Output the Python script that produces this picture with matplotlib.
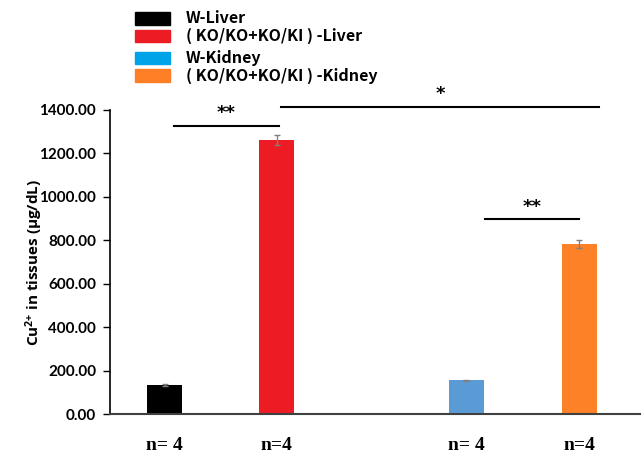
import matplotlib.pyplot as plt
from matplotlib.patches import Rectangle

plt.rcParams['mathtext.fontset'] = 'custom'
plt.rcParams['mathtext.rm'] = 'Open Sans:bold'
plt.rcParams['mathtext.bf'] = 'Open Sans:bold'
plt.rcParams['mathtext.it'] = 'Open Sans:bold'

# data
groups = ['W-Liver', '( KO/KO+KO/KI ) -Liver', 'W-Kidney', '( KO/KO+KO/KI ) -Kidney']
values = [135.0, 1262.0, 155.0, 782.0]
errors = [4.0, 22.0, 4.0, 18.0]
n_labels = ['n= 4', 'n=4', 'n= 4', 'n=4']
positions = [0.0, 1.0, 2.69, 3.7]
bar_colors = ['#000000', '#ED1C24', '#5B9BD5', '#FD8126']
legend_colors = ['#000000', '#ED1C24', '#00A2E8', '#FF7F27']
yticks = [0, 200, 400, 600, 800, 1000, 1200, 1400]

fig = plt.figure(figsize=(6.43, 4.54), dpi=100)
ax = fig.add_axes([0.171, 0.088, 0.824, 0.670])

ax.bar(positions, values, width=0.31, color=bar_colors,
       yerr=errors, ecolor='#808080', capsize=2.5, error_kw={'elinewidth': 1})

ax.set_xlim(-0.49, 4.24)
ax.set_ylim(0, 1400)
ax.set_yticks(yticks)
ax.set_yticklabels(['%.2f' % v for v in yticks], fontweight='bold',
                   fontsize=11, family='Lato')
ax.set_xticks(positions)
ax.set_xticklabels([])
ax.tick_params(axis='x', length=0)
ax.tick_params(axis='y', direction='out', length=5, width=1, pad=5)
for s in ['top', 'right']:
    ax.spines[s].set_visible(False)
ax.spines['left'].set_linewidth(1.2)
ax.spines['bottom'].set_linewidth(1.5)
ax.spines['bottom'].set_color('#404040')

# n labels under the bars
for xp, lab in zip(positions, n_labels):
    ax.annotate(lab, xy=(xp, 0), xycoords=('data', 'axes fraction'),
                xytext=(0, -22.5), textcoords='offset points', ha='center',
                va='center', fontsize=14, fontweight='bold',
                family='Liberation Serif')

ax.set_ylabel('Cu$^{2{+}}$ in tissues (µg/dL)', fontweight='bold',
              fontsize=11, family='Open Sans', labelpad=-4)

# significance bars
sig = [(0.08, 1.02, 1328, '**'), (1.04, 3.88, 1415, '*'), (2.86, 3.7, 898, '**')]
for x0, x1, y, txt in sig:
    ax.plot([x0, x1], [y, y], color='black', lw=1.5, clip_on=False)
    ax.text((x0 + x1) / 2, y + 15, txt, ha='center', va='bottom',
            fontsize=13, fontweight='bold', clip_on=False)

# legend drawn by hand
rows_y = [0.960, 0.921, 0.872, 0.833]
for c, label, yy in zip(legend_colors, groups, rows_y):
    fig.patches.append(Rectangle((135 / 643, yy - 0.014), 35 / 643, 0.028,
                                 transform=fig.transFigure, color=c))
    fig.text(186 / 643, yy, label, va='center', ha='left', fontsize=11.5,
             fontweight='bold', family=['Noto Sans CJK SC', 'DejaVu Sans'])

fig.savefig('out.png', dpi=100)
